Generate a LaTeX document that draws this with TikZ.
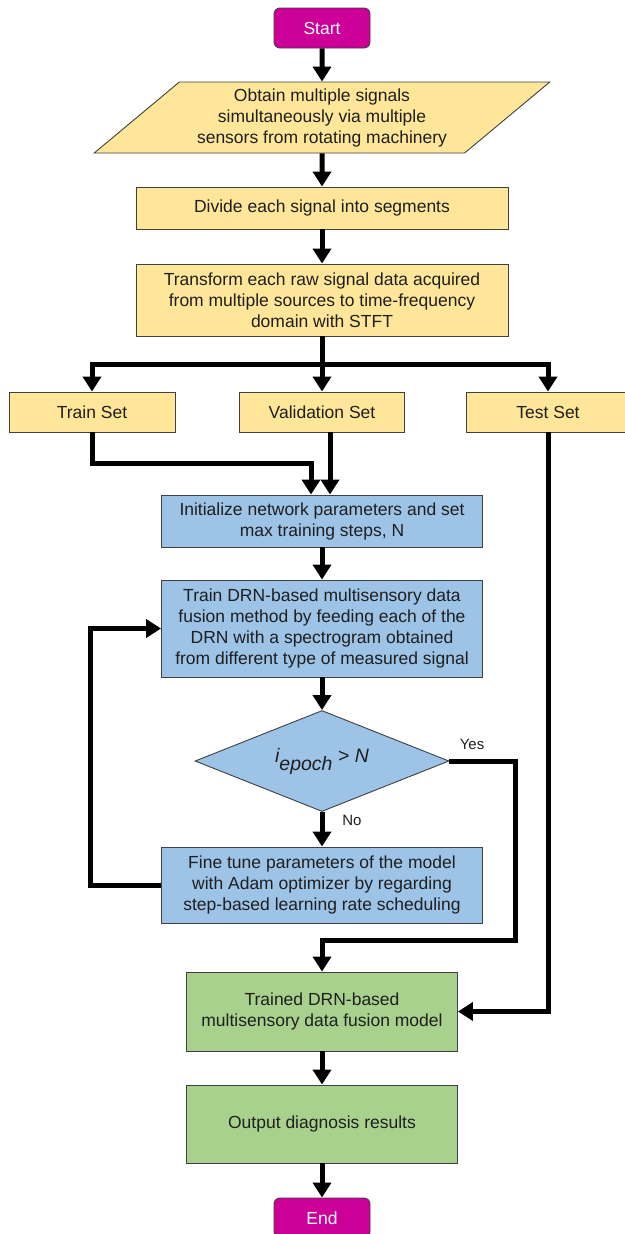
\documentclass[tikz,border=0pt]{standalone}
\usepackage{fontspec}
\setmainfont{Liberation Sans}
\usepackage{xcolor}
\usepackage{tikz}
\usetikzlibrary{positioning, arrows.meta, shapes.geometric}
\definecolor{startmagenta}{HTML}{CC0099}
\definecolor{lightyellow}{HTML}{FFE699}
\definecolor{lightblue}{HTML}{9DC3E6}
\definecolor{lightgreen}{HTML}{A9D18E}
\definecolor{bordergray}{HTML}{404040}
\definecolor{textgray}{HTML}{1F1F1F}

\tikzset{
  base/.style={draw=bordergray, line width=0.9pt, inner sep=0pt, align=center,
               text=textgray, font=\fontsize{17.5}{21}\selectfont},
  terminal/.style={base, fill=startmagenta, rounded corners=6pt, text=white,
                   minimum width=96pt, minimum height=40pt},
  yellowbox/.style={base, fill=lightyellow},
  bluebox/.style={base, fill=lightblue, minimum width=321pt},
  greenbox/.style={base, fill=lightgreen, minimum width=271pt},
  dataio/.style={base, fill=lightyellow, trapezium, trapezium left angle=38,
                 trapezium right angle=142, trapezium stretches=true},
  decision/.style={base, fill=lightblue, diamond, aspect=2.5,
                   minimum width=254pt, minimum height=101pt},
  flow/.style={line width=5pt, -{Triangle[width=18pt,length=15pt]}},
  lbl/.style={font=\fontsize{15}{18}\selectfont, text=textgray}
}

\begin{document}
\begin{tikzpicture}[x=1pt, y=-1pt]
  \useasboundingbox (0,0) rectangle (624,1234);

  % main column
  \node[terminal] (start) at (322,28) {Start};
  \node[dataio, minimum width=456pt, minimum height=71pt] (obtain) at (322,117.5)
    {Obtain multiple signals\\simultaneously via multiple\\sensors from rotating machinery};
  \node[yellowbox, minimum width=372pt, minimum height=42pt] (divide) at (322,208)
    {Divide each signal into segments};
  \node[yellowbox, minimum width=372pt, minimum height=72pt] (trans) at (322,300)
    {Transform each raw signal data acquired\\from multiple sources to time-frequency\\domain with STFT};

  % data sets
  \node[yellowbox, minimum width=166pt, minimum height=40pt] (trainset) at (92,412) {Train Set};
  \node[yellowbox, minimum width=165pt, minimum height=40pt] (valset) at (322,412) {Validation Set};
  \node[yellowbox, minimum width=164pt, minimum height=40pt] (testset) at (548,412) {Test Set};

  % training loop
  \node[bluebox, minimum height=52pt] (init) at (322,521)
    {Initialize network parameters and set\\max training steps, N};
  \node[bluebox, minimum height=97pt] (traindrn) at (322,628.5)
    {Train DRN-based multisensory data\\fusion method by feeding each of the\\DRN with a spectrogram obtained\\from different type of measured signal};
  \node[decision] (dec) at (322,761)
    {\fontsize{19.5}{22}\selectfont\itshape i\raisebox{-8pt}{epoch} > N};
  \node[bluebox, minimum height=76pt] (finetune) at (322,885)
    {Fine tune parameters of the model\\with Adam optimizer by regarding\\step-based learning rate scheduling};

  % result
  \node[greenbox, minimum height=79pt] (model) at (322,1011.5)
    {Trained DRN-based\\multisensory data fusion model};
  \node[greenbox, minimum height=78pt] (output) at (322,1124)
    {Output diagnosis results};
  \node[terminal] (endnode) at (322,1218) {End};

  \node[lbl] (yes) at (472,744) {Yes};
  \node[lbl] (no) at (352,820) {No};

  % bends
  \coordinate (split) at (322,364);
  \coordinate (trainbend) at (311,463);
  \coordinate (loopturn) at (90,885);
  \coordinate (yesturn) at (515,940);

  \draw[flow] (start) -- (obtain);
  \draw[flow] (obtain) -- (divide);
  \draw[flow] (divide) -- (trans);
  \draw[line width=5pt] (trans.south) -- (split);
  \draw[flow] (split) -| (trainset.north);
  \draw[flow] (split) -- (valset.north);
  \draw[flow] (split) -| (testset.north);
  \draw[flow] (trainset.south) |- (trainbend) -- (trainbend |- init.north);
  \draw[flow] ([xshift=8pt]valset.south) -- ([xshift=8pt]init.north);
  \draw[flow] (init) -- (traindrn);
  \draw[flow] (traindrn) -- (dec);
  \draw[flow] (dec) -- (finetune);
  \draw[flow] (finetune.west) -- (loopturn) |- (traindrn.west);
  \draw[flow] (dec.east) -| (yesturn) -| (model.north);
  \draw[flow] (testset.south) |- (model.east);
  \draw[flow] (model) -- (output);
  \draw[flow] (output) -- (endnode);
\end{tikzpicture}
\end{document}
